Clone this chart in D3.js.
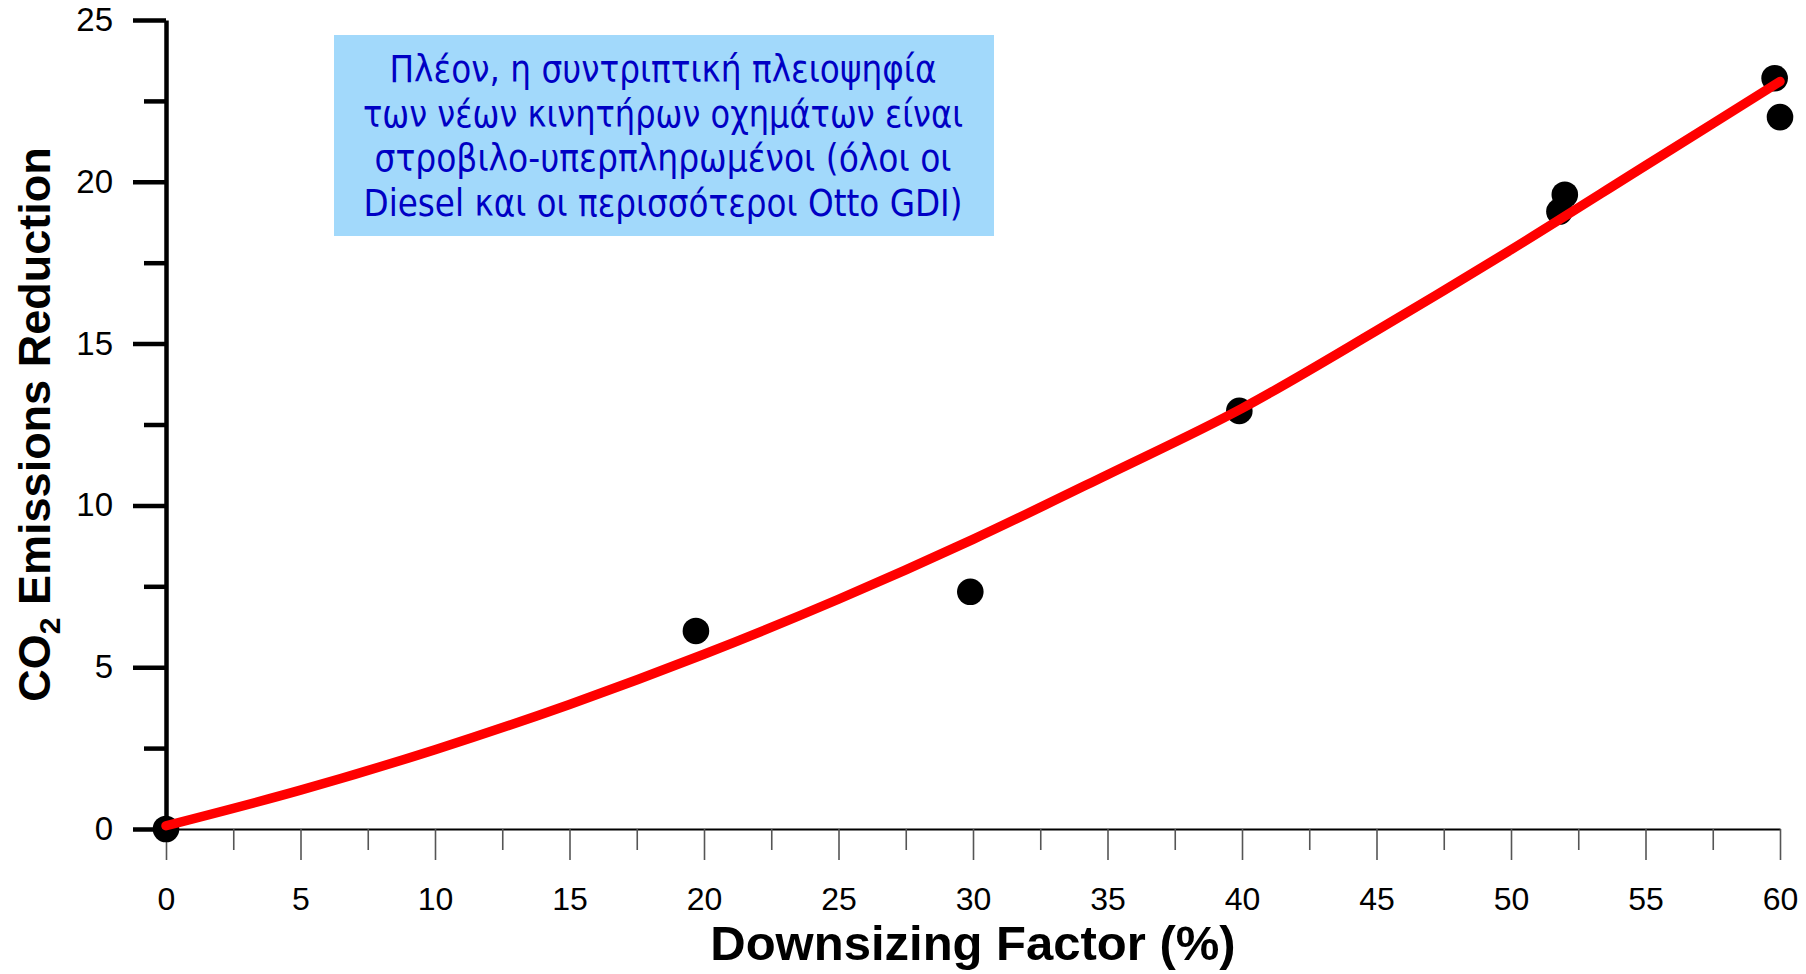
<!DOCTYPE html>
<html>
<head>
<meta charset="utf-8">
<script src="https://cdn.jsdelivr.net/npm/d3@7"></script>
<style>
  html, body { margin: 0; padding: 0; background: #fff; }
  svg { display: block; }
</style>
</head>
<body>
<svg id="chart" width="1806" height="974"></svg>
<script>
// ---- data ----
const pointsX = [0, 19.7, 29.9, 39.9, 51.8, 52.0, 59.8, 60.0];
const pointsY = [0, 6.12, 7.33, 12.92, 19.08, 19.6, 23.2, 22.0];

// fitted curve
const curveX = [0, 5, 10, 15, 20, 25, 30, 35, 40, 45, 50, 55, 60];
const curveY = [0.1, 1.2, 2.45, 3.85, 5.4, 7.1, 8.95, 10.95, 13.0, 15.4, 17.9, 20.5, 23.1];

const xMajorTicks = [0, 5, 10, 15, 20, 25, 30, 35, 40, 45, 50, 55, 60];
const xMinorTicks = [2.5, 7.5, 12.5, 17.5, 22.5, 27.5, 32.5, 37.5, 42.5, 47.5, 52.5, 57.5];
const yMajorTicks = [0, 5, 10, 15, 20, 25];
const yMinorTicks = [2.5, 7.5, 12.5, 17.5, 22.5];

const xTitle = "Downsizing Factor (%)";
const yTitleMain = "CO";
const yTitleSub = "2";
const yTitleRest = " Emissions Reduction";

const noteLines = [
  "Πλέον, η συντριπτική πλειοψηφία",
  "των νέων κινητήρων οχημάτων είναι",
  "στροβιλο-υπερπληρωμένοι (όλοι οι",
  "Diesel και οι περισσότεροι Otto GDI)"
];
const noteWidths = [547, 600, 577, 599];

// ---- layout ----
const svg = d3.select("#chart");
const pL = 166, pR = 1780, pT = 20, pB = 829;
const font = "'Liberation Sans', Arial, Helvetica, sans-serif";

const x = d3.scaleLinear().domain([0, 60]).range([pL, pR]);
const y = d3.scaleLinear().domain([0, 25]).range([pB, pT]);

// x axis
const gx = svg.append("g").attr("transform", `translate(0,${pB})`);
gx.call(d3.axisBottom(x).tickValues(xMajorTicks).tickSize(31).tickSizeOuter(0).tickPadding(27).tickFormat(d3.format("d")));
gx.select(".domain").attr("stroke", "#000").attr("stroke-width", 2);
gx.selectAll(".tick line").attr("stroke", "#555").attr("stroke-width", 1.6);
gx.selectAll(".tick text").attr("font-family", font).attr("font-size", 32).attr("fill", "#000");

const gxm = svg.append("g").attr("transform", `translate(0,${pB})`);
gxm.call(d3.axisBottom(x).tickValues(xMinorTicks).tickSize(21).tickSizeOuter(0).tickFormat(""));
gxm.select(".domain").remove();
gxm.selectAll(".tick line").attr("stroke", "#555").attr("stroke-width", 1.6);

// y axis
const gy = svg.append("g").attr("transform", `translate(${pL},0)`);
gy.call(d3.axisLeft(y).tickValues(yMajorTicks).tickSize(33).tickSizeOuter(0).tickPadding(20).tickFormat(d3.format("d")));
gy.select(".domain").attr("stroke", "#000").attr("stroke-width", 4.5);
gy.selectAll(".tick line").attr("stroke", "#000").attr("stroke-width", 4.5);
gy.selectAll(".tick text").attr("font-family", font).attr("font-size", 33).attr("fill", "#000");

const gym = svg.append("g").attr("transform", `translate(${pL},0)`);
gym.call(d3.axisLeft(y).tickValues(yMinorTicks).tickSize(22).tickSizeOuter(0).tickFormat(""));
gym.select(".domain").remove();
gym.selectAll(".tick line").attr("stroke", "#000").attr("stroke-width", 4.5);

// annotation box
const boxX = 334, boxY = 35, boxW = 660, boxH = 201;
svg.append("rect").attr("x", boxX).attr("y", boxY).attr("width", boxW).attr("height", boxH)
  .attr("fill", "#a2d9fb");
svg.append("g").selectAll("text").data(noteLines).join("text")
  .attr("x", boxX + boxW / 2 - 1)
  .attr("y", (d, i) => 82 + i * 44.5)
  .attr("text-anchor", "middle")
  .attr("font-family", "'DejaVu Sans', sans-serif")
  .attr("font-size", 37)
  .attr("fill", "#0000c4")
  .attr("textLength", (d, i) => noteWidths[i])
  .attr("lengthAdjust", "spacingAndGlyphs")
  .text(d => d);

// points
const pts = pointsX.map((v, i) => ({ x: v, y: pointsY[i] }));
svg.append("g").selectAll("circle").data(pts).join("circle")
  .attr("cx", d => x(d.x)).attr("cy", d => y(d.y)).attr("r", 13.3)
  .attr("fill", "#000");

// curve
const cpts = curveX.map((v, i) => ({ x: v, y: curveY[i] }));
svg.append("path").datum(cpts)
  .attr("d", d3.line().x(d => x(d.x)).y(d => y(d.y)).curve(d3.curveMonotoneX))
  .attr("fill", "none").attr("stroke", "#ff0000").attr("stroke-width", 9.5)
  .attr("stroke-linecap", "round").attr("stroke-linejoin", "round");

// axis titles
svg.append("text")
  .attr("x", (pL + pR) / 2).attr("y", 960)
  .attr("text-anchor", "middle")
  .attr("font-family", font).attr("font-weight", "bold").attr("font-size", 49)
  .attr("fill", "#000")
  .text(xTitle);

const yt = svg.append("text")
  .attr("transform", `translate(50,${(pT + pB) / 2}) rotate(-90)`)
  .attr("text-anchor", "middle")
  .attr("font-family", font).attr("font-weight", "bold").attr("font-size", 45)
  .attr("fill", "#000");
yt.append("tspan").text(yTitleMain);
yt.append("tspan").attr("font-size", 30).attr("dy", 10).text(yTitleSub);
yt.append("tspan").attr("dy", -10).text(yTitleRest);
</script>
</body>
</html>
